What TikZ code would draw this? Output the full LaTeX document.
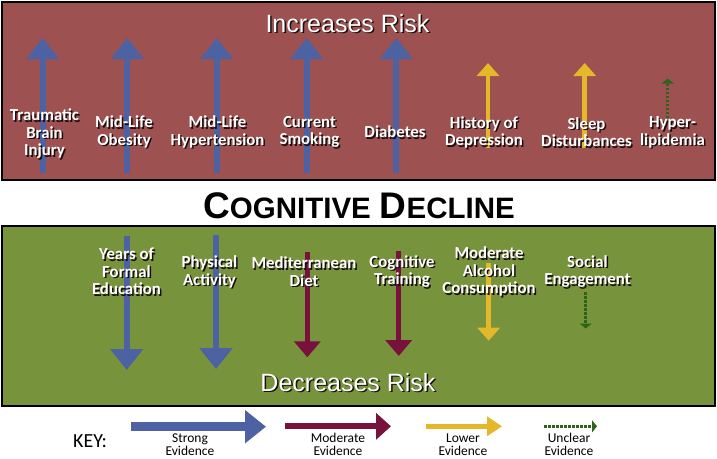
\documentclass[tikz,border=0pt]{standalone}
\usepackage{fontspec}
\setmainfont{Carlito}
\newfontfamily\arialf{Liberation Sans}
\usetikzlibrary{arrows.meta}
\definecolor{riskred}{RGB}{157,81,81}
\definecolor{protgreen}{RGB}{119,148,61}
\definecolor{strongblue}{RGB}{76,98,163}
\definecolor{modmaroon}{RGB}{120,18,60}
\definecolor{lowyellow}{RGB}{228,184,40}
\definecolor{unclgreen}{RGB}{45,100,25}
\definecolor{shadowc}{RGB}{25,15,15}
\newcommand\shd[1]{\rlap{\kern1.5pt\raisebox{-1.5pt}{\color{shadowc}#1}}#1}
\tikzset{
  riskbox/.style={draw=black,line width=2.5pt,fill=riskred},
  protbox/.style={draw=black,line width=2.5pt,fill=protgreen},
  lbl/.style={text=white,align=center,inner sep=0pt,
    font=\bfseries\fontsize{16.8}{17.5}\selectfont},
  headline/.style={text=white,inner sep=0pt,anchor=base,
    font=\arialf\fontsize{25}{25}\selectfont},
  strongarr/.style={color=strongblue,line width=6pt,-{Triangle[width=32pt,length=21pt]}},
  modarr/.style={color=modmaroon,line width=5pt,-{Triangle[width=26pt,length=16pt]}},
  lowarr/.style={color=lowyellow,line width=4.5pt,-{Triangle[width=22pt,length=13pt]}},
  unclarr/.style={color=unclgreen,line width=2.8pt,dash pattern=on 2.5pt off 1.5pt,-{Triangle[width=12pt,length=5pt]}},
  keylbl/.style={align=center,inner sep=0pt,font=\fontsize{13.5}{13}\selectfont},
}
\begin{document}
\begin{tikzpicture}[x=1pt,y=-1pt]
\useasboundingbox (0,0) rectangle (717,458);
% boxes
\path[riskbox] (2,2) rectangle (715,180);
\path[protbox] (2,226) rectangle (715,406);
% titles
\node[headline] (inc) at (347.5,32) {\shd{Increases Risk}};
\node[headline] (dec) at (348,391) {\shd{Decreases Risk}};
\node[anchor=base,inner sep=0pt,font=\arialf\bfseries] (cd) at (359,218)
  {{\fontsize{37}{37}\selectfont C}{\fontsize{29.5}{29.5}\selectfont OGNITIVE}\hspace{9pt}{\fontsize{37}{37}\selectfont D}{\fontsize{29.5}{29.5}\selectfont ECLINE}};
% increase arrows
\coordinate (u1s) at (42.7,173);  \coordinate (u1e) at (42.7,38);
\coordinate (u2s) at (127.3,173); \coordinate (u2e) at (127.3,38);
\coordinate (u3s) at (216.7,173); \coordinate (u3e) at (216.7,38);
\coordinate (u4s) at (306.7,173); \coordinate (u4e) at (306.7,38);
\coordinate (u5s) at (396.3,173); \coordinate (u5e) at (396.3,38);
\coordinate (u6s) at (488,148);   \coordinate (u6e) at (488,63);
\coordinate (u7s) at (584.7,148); \coordinate (u7e) at (584.7,63);
\coordinate (u8s) at (667.7,122); \coordinate (u8e) at (667.7,78.5);
\draw[strongarr] (u1s) -- (u1e);
\draw[strongarr] (u2s) -- (u2e);
\draw[strongarr] (u3s) -- (u3e);
\draw[strongarr] (u4s) -- (u4e);
\draw[strongarr] (u5s) -- (u5e);
\draw[lowarr] (u6s) -- (u6e);
\draw[lowarr] (u7s) -- (u7e);
\draw[unclarr] (u8s) -- (u8e);
% decrease arrows
\coordinate (d1s) at (126.7,236); \coordinate (d1e) at (126.7,370);
\coordinate (d2s) at (216,235);   \coordinate (d2e) at (216,369);
\coordinate (d3s) at (307.3,252); \coordinate (d3e) at (307.3,357.3);
\coordinate (d4s) at (398.7,251); \coordinate (d4e) at (398.7,356);
\coordinate (d5s) at (488.7,263); \coordinate (d5e) at (488.7,340.7);
\coordinate (d6s) at (585.7,292); \coordinate (d6e) at (585.7,328.5);
\draw[strongarr] (d1s) -- (d1e);
\draw[strongarr] (d2s) -- (d2e);
\draw[modarr] (d3s) -- (d3e);
\draw[modarr] (d4s) -- (d4e);
\draw[lowarr] (d5s) -- (d5e);
\draw[unclarr] (d6s) -- (d6e);
% increase labels
\node[lbl] (tbi) at (44.5,134.5) {\shd{Traumatic}\\\shd{Brain}\\\shd{Injury}};
\node[lbl] (mlo) at (124,132.5) {\shd{Mid-Life}\\\shd{Obesity}};
\node[lbl] (mlh) at (217.5,132.5) {\shd{Mid-Life}\\\shd{Hypertension}};
\node[lbl] (cs) at (309.5,132.5) {\shd{Current}\\\shd{Smoking}};
\node[lbl] (dia) at (395,132.5) {\shd{Diabetes}};
\node[lbl] (hod) at (484,133) {\shd{History of}\\\shd{Depression}};
\node[lbl] (sd) at (586.5,133) {\shd{Sleep}\\\shd{Disturbances}};
\node[lbl] (hl) at (672.5,133) {\shd{Hyper-}\\\shd{lipidemia}};
% decrease labels
\node[lbl] (yfe) at (126.5,272) {\shd{Years of}\\\shd{Formal}\\\shd{Education}};
\node[lbl] (pa) at (209.5,272.5) {\shd{Physical}\\\shd{Activity}};
\node[lbl] (md) at (304,272.5) {\shd{Mediterranean}\\\shd{Diet}};
\node[lbl] (ct) at (402,272.5) {\shd{Cognitive}\\\shd{Training}};
\node[lbl] (mac) at (489,272.5) {\shd{Moderate}\\\shd{Alcohol}\\\shd{Consumption}};
\node[lbl] (se) at (587.5,272.5) {\shd{Social}\\\shd{Engagement}};
% key
\node[inner sep=0pt,font=\fontsize{20}{20}\selectfont] (key) at (90,441) {KEY:};
\coordinate (k1s) at (131,426.7); \coordinate (k1e) at (266,426.7);
\coordinate (k2s) at (285,426.3); \coordinate (k2e) at (391,426.3);
\coordinate (k3s) at (426,426.3); \coordinate (k3e) at (502,426.3);
\coordinate (k4s) at (544,426.3); \coordinate (k4e) at (597,426.3);
\draw[color=strongblue,line width=9pt,-{Triangle[width=32pt,length=21pt]}] (k1s) -- (k1e);
\draw[color=modmaroon,line width=6pt,-{Triangle[width=26pt,length=15pt]}] (k2s) -- (k2e);
\draw[color=lowyellow,line width=4.7pt,-{Triangle[width=19pt,length=15pt]}] (k3s) -- (k3e);
\draw[unclarr] (k4s) -- (k4e);
\node[keylbl] (kl1) at (190,444.5) {Strong\\Evidence};
\node[keylbl] (kl2) at (338,444.5) {Moderate\\Evidence};
\node[keylbl] (kl3) at (463,444.5) {Lower\\Evidence};
\node[keylbl] (kl4) at (569,444.5) {Unclear\\Evidence};
\end{tikzpicture}
\end{document}
